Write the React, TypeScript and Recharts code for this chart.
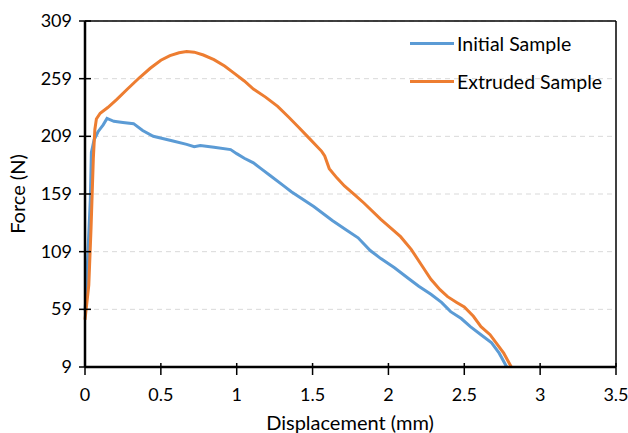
import React from 'react';
import { LineChart, Line, XAxis, YAxis, CartesianGrid, ReferenceLine } from 'recharts';

const xTicks = [0, 0.5, 1, 1.5, 2, 2.5, 3, 3.5];
const yTicks = [9, 59, 109, 159, 209, 259, 309];

const initialDisp = [0, 0.005, 0.02, 0.035, 0.042, 0.06, 0.086, 0.12, 0.145, 0.19, 0.25, 0.32, 0.38, 0.45, 0.58, 0.67, 0.72, 0.76, 0.85, 0.96, 1.0, 1.05, 1.11, 1.16, 1.22, 1.31, 1.36, 1.51, 1.63, 1.72, 1.8, 1.88, 1.95, 2.04, 2.13, 2.2, 2.28, 2.35, 2.41, 2.48, 2.54, 2.61, 2.68, 2.73, 2.78];
const initialForce = [58, 67, 110, 154, 195, 206, 213, 219, 224.5, 222, 221, 220, 214, 209, 205, 202, 200, 201, 199.5, 197.5, 194, 190, 186, 181, 175, 166, 161, 148, 136, 128, 121, 110, 103, 95, 86, 79, 72, 65, 57, 51, 44, 37, 30, 21, 9];

const extrudedDisp = [0, 0.025, 0.04, 0.055, 0.065, 0.075, 0.1, 0.15, 0.21, 0.28, 0.36, 0.43, 0.5, 0.56, 0.62, 0.67, 0.72, 0.78, 0.85, 0.92, 0.98, 1.05, 1.11, 1.19, 1.27, 1.34, 1.4, 1.48, 1.56, 1.58, 1.61, 1.66, 1.71, 1.78, 1.84, 1.95, 2.02, 2.08, 2.15, 2.22, 2.28, 2.34, 2.39, 2.45, 2.5, 2.56, 2.61, 2.67, 2.71, 2.76, 2.81];
const extrudedForce = [50, 80, 130, 190, 215, 224, 229, 234, 241, 250, 260, 268, 275, 279, 281.5, 282.5, 282, 279.5, 275.5, 270, 264, 257, 250, 243, 235, 226, 218, 207, 196, 192, 181, 173, 166, 158, 151, 137, 129, 122, 111, 97, 85, 76, 70, 65, 61, 53, 44, 37, 30, 21, 9];

const seriesNames = ['Initial Sample', 'Extruded Sample'];
const seriesColors = ['#5B9BD5', '#ED7D31'];

const initialData = initialDisp.map((d, i) => ({ d, f: initialForce[i] }));
const extrudedData = extrudedDisp.map((d, i) => ({ d, f: extrudedForce[i] }));

const FONT = 'Lato, "Open Sans", sans-serif';

const YTick = (props: any) => {
  const { x, y, payload } = props;
  return (
    <g>
      <line x1={x} y1={y} x2={x + 12} y2={y} stroke="#000" strokeWidth={1.5} />
      <text x={x - 7} y={y} dy={6} textAnchor="end" fontSize={18} fontFamily={FONT} fill="#000">
        {payload.value}
      </text>
    </g>
  );
};

const XTick = (props: any) => {
  const { x, y, payload } = props;
  return (
    <g>
      <line x1={x} y1={y - 12} x2={x} y2={y} stroke="#000" strokeWidth={1.5} />
      <text x={x} y={y + 26} textAnchor="middle" fontSize={18} fontFamily={FONT} fill="#000">
        {payload.value}
      </text>
    </g>
  );
};

const LegendBox = () => (
  <div style={{ position: 'absolute', left: 410, top: 24, fontFamily: FONT, fontSize: 19.5, color: '#000' }}>
    {seriesNames.map((n, i) => (
      <div key={n} style={{ display: 'flex', alignItems: 'center', height: 38 }}>
        <div style={{ width: 44, height: 3, background: seriesColors[i], marginRight: 3 }} />
        <span>{n}</span>
      </div>
    ))}
  </div>
);

export default function App() {
  return (
    <div style={{ position: 'absolute', left: 0, top: 0, width: 628, height: 433, background: '#fff' }}>
      <LineChart width={628} height={433} margin={{ top: 21, right: 12, bottom: 36, left: 0 }}>
        <CartesianGrid horizontal vertical={false} stroke="#d9d9d9" strokeDasharray="5 4" />
        <XAxis
          type="number"
          dataKey="d"
          domain={[0, 3.5]}
          ticks={xTicks}
          height={30}
          axisLine={{ stroke: '#000', strokeWidth: 2.5 }}
          tickLine={false}
          tickSize={6}
          tick={<XTick />}
          interval={0}
          label={{
            content: () => (
              <text x={350} y={430} textAnchor="middle" fontSize={20} fontFamily={FONT} fill="#000">
                Displacement (mm)
              </text>
            ),
          }}
        />
        <YAxis
          type="number"
          domain={[9, 309]}
          ticks={yTicks}
          width={85}
          axisLine={{ stroke: '#000', strokeWidth: 2.5 }}
          tickLine={false}
          tickSize={6}
          tickMargin={0}
          tick={<YTick />}
          interval={0}
          label={{
            content: () => (
              <text x={25} y={194} transform="rotate(-90 25 194)" textAnchor="middle" fontSize={20} fontFamily={FONT} fill="#000">
                Force (N)
              </text>
            ),
          }}
        />
        <ReferenceLine y={309} stroke="#000" strokeWidth={1.5} />
        <ReferenceLine x={3.5} stroke="#000" strokeWidth={1.5} />
        <Line
          data={initialData}
          dataKey="f"
          name={seriesNames[0]}
          stroke={seriesColors[0]}
          strokeWidth={3}
          dot={false}
          type="linear"
          isAnimationActive={false}
        />
        <Line
          data={extrudedData}
          dataKey="f"
          name={seriesNames[1]}
          stroke={seriesColors[1]}
          strokeWidth={3}
          dot={false}
          type="linear"
          isAnimationActive={false}
        />
      </LineChart>
      <LegendBox />
    </div>
  );
}
